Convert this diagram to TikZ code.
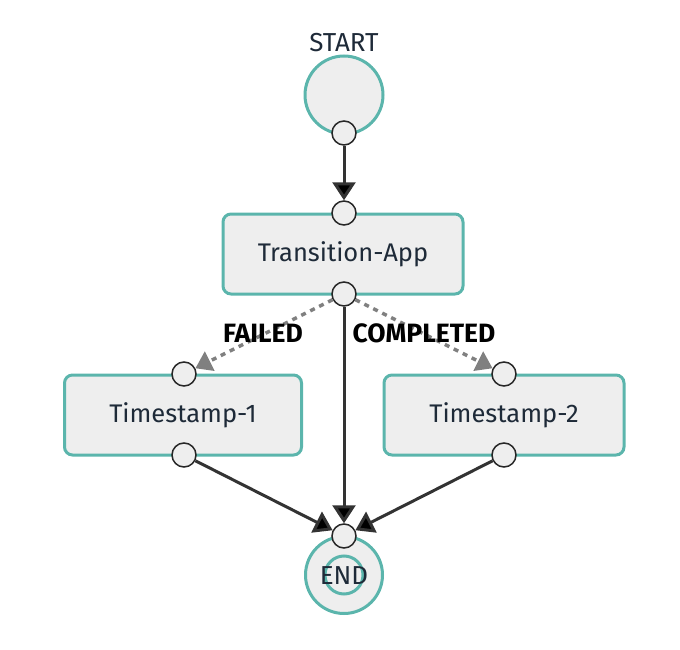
\documentclass[tikz,border=0pt]{standalone}
\usepackage{fontspec}
\setmainfont{Fira Sans}
\usetikzlibrary{arrows.meta}
\definecolor{teal1}{HTML}{5BB5AC}
\definecolor{fillg}{HTML}{EEEEEE}
\definecolor{txt}{HTML}{1E2A38}
\definecolor{edge}{HTML}{333333}
\definecolor{dashg}{HTML}{808080}
\tikzset{
  task/.style={draw=teal1, fill=fillg, line width=3pt, rounded corners=8pt, minimum width=240pt, minimum height=80pt, font=\fontsize{25.5}{28}\selectfont, text=txt, inner sep=0pt},
  port/.style={circle, draw=black!85, fill=fillg, line width=1.5pt, minimum size=24pt, inner sep=0pt},
  flow/.style={draw=edge, line width=3pt, -{Triangle[width=23pt,length=18pt,fill=black]}},
  branch/.style={draw=dashg, line width=3.5pt, dash pattern=on 5pt off 5pt, -{Triangle[width=21pt,length=16pt,fill=dashg]}},
  lbl/.style={font=\bfseries\fontsize{26.5}{28}\selectfont, text=black, inner sep=1pt},
  plain/.style={font=\fontsize{26}{28}\selectfont, text=txt}
}
\begin{document}
\begin{tikzpicture}[x=1pt,y=-1pt]
\useasboundingbox (0,0) rectangle (680,650);
% start
\node[circle, draw=teal1, fill=fillg, line width=3pt, minimum size=78pt, inner sep=0pt] (start) at (344,95) {};
\node[plain] (startlbl) at (344,43) {START};
% tasks
\node[task] (ta) at (343,254) {Transition-App};
\node[task, minimum width=237pt] (t1) at (183,415) {Timestamp-1};
\node[task] (t2) at (504,415) {Timestamp-2};
% end
\node[circle, draw=teal1, fill=fillg, line width=3pt, minimum size=77pt, inner sep=0pt] (endo) at (344,575) {};
\node[circle, draw=teal1, fill=fillg, line width=3pt, minimum size=38pt, inner sep=0pt] (endi) at (344,575) {};
\node[plain] (endlbl) at (344,576) {END};
% ports
\node[port] (ps) at (344,133) {};
\node[port] (pta) at (344,213) {};
\node[port] (ptb) at (344,294) {};
\node[port] (p1a) at (184,374) {};
\node[port] (p1b) at (184,455) {};
\node[port] (p2a) at (504,374) {};
\node[port] (p2b) at (504,455) {};
\node[port] (pe) at (344,536) {};
% connectors
\draw[flow] (ps) -- (pta);
\draw[flow] (ptb) -- (pe);
\draw[flow] (p1b) -- (pe);
\draw[flow] (p2b) -- (pe);
\draw[branch] (ptb) -- (p1a);
\draw[branch] (ptb) -- (p2a);
\node[lbl] (lf) at (263,333) {FAILED};
\node[lbl] (lc) at (424,333) {COMPLETED};
\end{tikzpicture}
\end{document}
